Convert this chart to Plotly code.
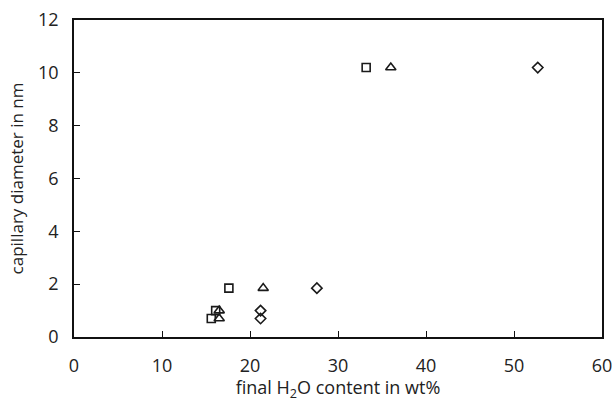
import plotly.graph_objects as go

# data
sq_x = [15.6, 16.1, 17.6, 33.2]
sq_y = [0.7, 1.0, 1.85, 10.2]
tri_x = [16.5, 16.5, 21.5, 36.0]
tri_y = [0.7, 1.0, 1.85, 10.2]
dia_x = [21.2, 21.2, 27.6, 52.7]
dia_y = [0.7, 1.0, 1.85, 10.2]

x_ticks = [0, 10, 20, 30, 40, 50, 60]
y_ticks = [0, 2, 4, 6, 8, 10, 12]

col = "#1a1a1a"
fig = go.Figure()
for xs, ys, sym, sz in [(sq_x, sq_y, "square-open", 8),
                        (tri_x, tri_y, "triangle-up-open", 9),
                        (dia_x, dia_y, "diamond-open", 8)]:
    fig.add_trace(go.Scatter(x=xs, y=ys, mode="markers",
                             marker=dict(symbol=sym, size=sz, color=col,
                                         line=dict(width=1.6, color=col)),
                             showlegend=False))

font = dict(family="'Open Sans', sans-serif", size=18, color="#222")
fig.update_layout(
    width=614, height=402,
    margin=dict(l=74, r=12, t=20, b=65),
    paper_bgcolor="white", plot_bgcolor="white",
    font=font,
)
fig.update_xaxes(range=[0, 60], tickvals=x_ticks, showgrid=False, zeroline=False,
                 showline=True, linecolor="#111", linewidth=1.5, mirror=True,
                 ticks="inside", ticklen=6, tickwidth=1, tickcolor="#111",
                 ticklabelstandoff=12, automargin=False,
                 title=dict(text="final H<sub>2</sub>O content in wt%", font=dict(size=18), standoff=14))
fig.update_yaxes(range=[0, 12], tickvals=y_ticks, showgrid=False, zeroline=False,
                 showline=True, linecolor="#111", linewidth=1.5, mirror=True,
                 ticks="inside", ticklen=6, tickwidth=1, tickcolor="#111",
                 ticklabelstandoff=10, automargin=False,
                 title=dict(text="capillary diameter in nm", font=dict(size=17), standoff=10))
fig.write_html("out.html", config={"displayModeBar": False},
               post_script="document.body.style.margin='0';")
